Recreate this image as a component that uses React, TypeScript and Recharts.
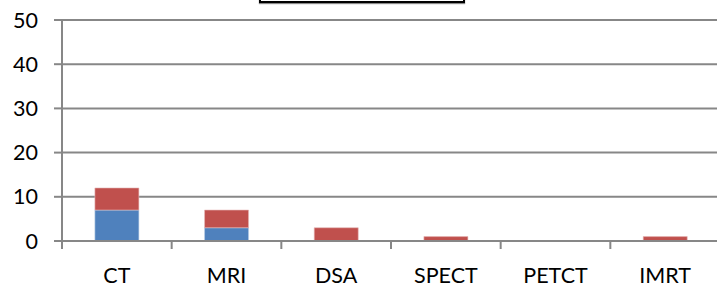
import React from "react";
import { BarChart, Bar, XAxis, YAxis, CartesianGrid } from "recharts";

const categories = ["CT", "MRI", "DSA", "SPECT", "PETCT", "IMRT"];
const blueValues = [7, 3, 0, 0, 0, 0];
const redValues = [5, 4, 3, 1, 0, 1];
const yTicks = [0, 10, 20, 30, 40, 50];

const data = categories.map((name, i) => ({
  name,
  blue: blueValues[i],
  red: redValues[i],
}));

const axisColor = "#878787";
const font = "Lato, 'Open Sans', sans-serif";

// category label in the middle, tick mark on the left edge of the band
const CategoryTick = (props: any) => {
  const { x, y, payload } = props;
  const left = x - (payload.offset || 0);
  return (
    <g>
      <line
        x1={left}
        x2={left}
        y1={y - 27}
        y2={y - 19}
        stroke={axisColor}
        strokeWidth={2}
      />
      <text
        x={x}
        y={y}
        dy="0.7em"
        textAnchor="middle"
        fill="#000"
        fontSize={21.5}
        fontFamily={font}
      >
        {payload.value}
      </text>
    </g>
  );
};

export default function App() {
  return (
    <div
      style={{
        position: "absolute",
        left: 0,
        top: 0,
        width: 717,
        height: 287,
        overflow: "hidden",
        background: "#fff",
      }}
    >
      <BarChart
        width={722}
        height={287}
        data={data}
        margin={{ top: 20, right: 2, left: 0, bottom: 0 }}
        barCategoryGap="30%"
      >
        <CartesianGrid
          vertical={false}
          stroke={axisColor}
          strokeWidth={2}
        />
        <XAxis
          dataKey="name"
          height={46}
          tickSize={8}
          tickMargin={19}
          tickLine={false}
          axisLine={{ stroke: axisColor, strokeWidth: 2 }}
          tick={<CategoryTick />}
          interval={0}
        />
        <YAxis
          width={62}
          domain={[0, 50]}
          ticks={yTicks}
          tickSize={8}
          tickMargin={16}
          tickLine={{ stroke: axisColor, strokeWidth: 2 }}
          axisLine={{ stroke: axisColor, strokeWidth: 2 }}
          tick={{ fill: "#000", fontSize: 21.5, fontFamily: font }}
        />
        <Bar
          dataKey="blue"
          stackId="a"
          fill="#4F81BD"
          stroke="#b9cde5"
          strokeWidth={0.6}
          isAnimationActive={false}
        />
        <Bar
          dataKey="red"
          stackId="a"
          fill="#C0504D"
          stroke="#e6b9b8"
          strokeWidth={0.6}
          isAnimationActive={false}
        />
      </BarChart>
      <div
        style={{
          position: "absolute",
          left: 259,
          top: -14,
          width: 202,
          height: 13,
          border: "2px solid #000",
          boxShadow: "0 1px 1px #888",
        }}
      />
    </div>
  );
}
